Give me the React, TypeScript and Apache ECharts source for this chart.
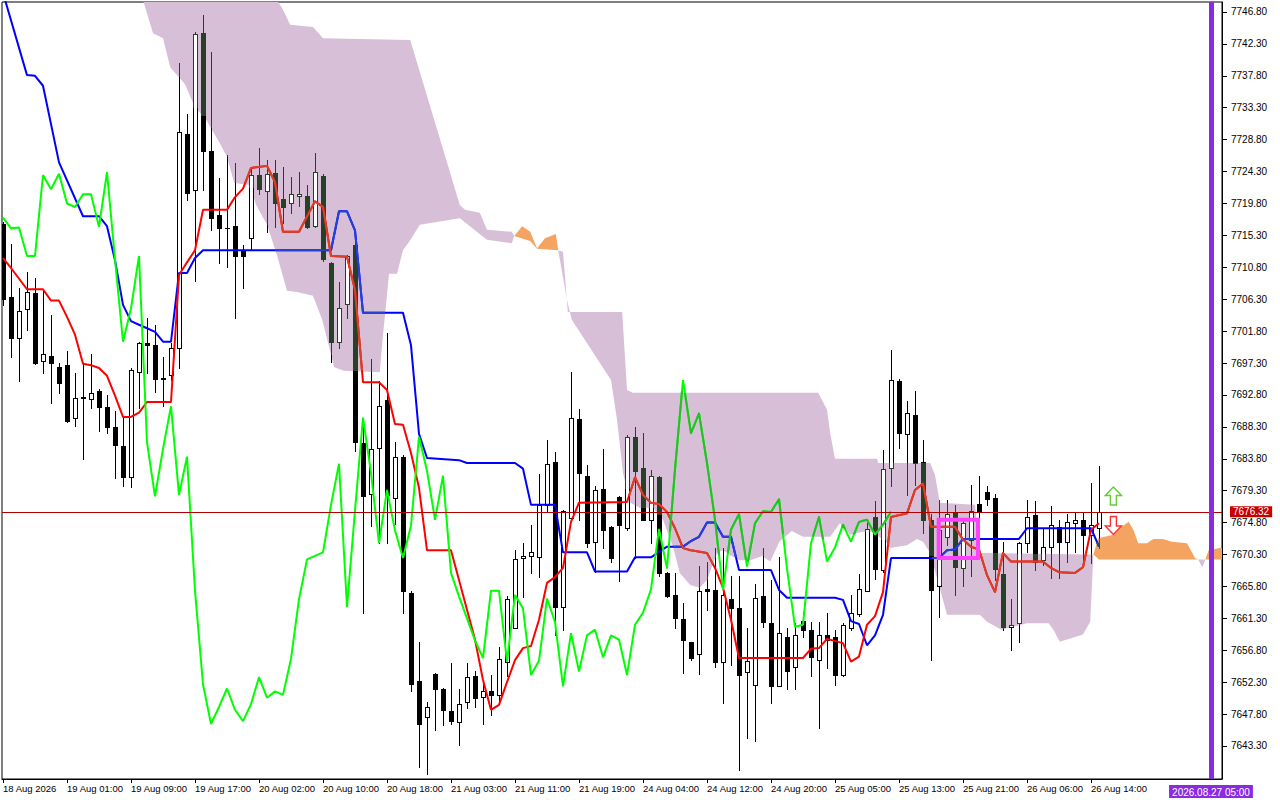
import { useEffect, useRef } from 'react';
import * as echarts from 'echarts';

const timeLabels = ['18 Aug 2026', '19 Aug 01:00', '19 Aug 09:00', '19 Aug 17:00', '20 Aug 02:00', '20 Aug 10:00', '20 Aug 18:00', '21 Aug 03:00', '21 Aug 11:00', '21 Aug 19:00', '24 Aug 04:00', '24 Aug 12:00', '24 Aug 20:00', '25 Aug 05:00', '25 Aug 13:00', '25 Aug 21:00', '26 Aug 06:00', '26 Aug 14:00'];
const timeLabelBars = [0, 8, 16, 24, 32, 40, 48, 56, 64, 72, 80, 88, 96, 104, 112, 120, 128, 136];
const priceTicks = [7643.3, 7647.8, 7652.3, 7656.8, 7661.3, 7665.8, 7670.3, 7674.8, 7679.3, 7683.8, 7688.3, 7692.8, 7697.3, 7701.8, 7706.3, 7710.8, 7715.3, 7719.8, 7724.3, 7728.8, 7733.3, 7737.8, 7742.3, 7746.8];

const opens = [7716.9, 7706.6, 7700.8, 7704.9, 7707.2, 7697.6, 7698.3, 7696.7, 7697.0, 7689.5,
  7692.4, 7692.2, 7693.4, 7691.1, 7688.3, 7685.6, 7681.2, 7696.0, 7700.1, 7699.9,
  7695.1, 7695.6, 7699.4, 7729.6, 7721.7, 7743.9, 7727.2, 7718.2, 7716.3, 7716.6,
  7713.3, 7714.9, 7723.8, 7721.5, 7724.1, 7720.5, 7719.8, 7720.8, 7720.9, 7716.6,
  7723.7, 7711.4, 7700.3, 7705.6, 7714.0, 7686.0, 7678.8, 7685.3, 7692.1, 7678.3,
  7684.1, 7664.9, 7652.4, 7647.4, 7653.4, 7651.3, 7648.2, 7646.7, 7649.5, 7653.1,
  7650.2, 7651.0, 7650.5, 7655.2, 7660.0, 7669.8, 7670.1, 7670.0, 7677.3, 7683.4,
  7662.9, 7675.5, 7689.4, 7681.4, 7672.0, 7679.6, 7674.2, 7678.4, 7674.0, 7686.8,
  7682.5, 7675.1, 7681.2, 7667.7, 7664.6, 7661.2, 7657.9, 7656.3, 7665.4, 7665.3,
  7655.2, 7664.0, 7662.7, 7653.7, 7651.9, 7664.5, 7660.7, 7651.8, 7658.7, 7654.4,
  7660.9, 7659.7, 7655.4, 7658.9, 7658.7, 7653.3, 7660.0, 7661.9, 7665.2, 7675.6,
  7668.1, 7682.5, 7694.7, 7687.3, 7690.0, 7683.4, 7675.2, 7665.8, 7672.7, 7676.1,
  7668.4, 7672.4, 7677.4, 7679.1, 7678.2, 7667.6, 7660.1, 7660.7, 7671.9, 7675.9,
  7669.5, 7671.3, 7674.2, 7672.1, 7674.8, 7675.2, 7673.1, 7674.0];
const highs = [7717.2, 7714.1, 7707.9, 7710.1, 7709.3, 7707.6, 7704.1, 7697.3, 7699.0, 7695.9,
  7697.3, 7698.6, 7693.6, 7692.8, 7690.5, 7689.5, 7696.6, 7700.3, 7703.7, 7702.7,
  7698.2, 7700.1, 7739.6, 7732.4, 7744.0, 7746.4, 7741.2, 7723.4, 7726.6, 7725.5,
  7713.9, 7724.8, 7727.6, 7725.9, 7725.9, 7725.0, 7723.6, 7724.3, 7722.4, 7726.9,
  7723.9, 7711.6, 7708.7, 7712.6, 7714.3, 7689.4, 7697.9, 7694.8, 7701.6, 7686.2,
  7684.3, 7665.1, 7658.0, 7649.5, 7653.6, 7651.5, 7655.0, 7651.4, 7655.0, 7653.8,
  7652.0, 7653.3, 7657.3, 7664.4, 7671.0, 7671.9, 7674.4, 7681.7, 7686.5, 7684.7,
  7676.6, 7696.0, 7690.8, 7682.9, 7679.9, 7685.2, 7674.3, 7678.5, 7687.2, 7688.3,
  7687.4, 7682.2, 7681.3, 7667.9, 7667.7, 7663.4, 7658.0, 7668.7, 7669.2, 7671.2,
  7671.2, 7667.2, 7667.3, 7660.0, 7666.2, 7671.2, 7666.7, 7670.0, 7659.9, 7660.6,
  7662.2, 7660.8, 7660.8, 7662.1, 7659.6, 7660.6, 7664.6, 7667.6, 7675.2, 7677.8,
  7685.0, 7699.2, 7695.1, 7691.9, 7693.4, 7686.4, 7676.0, 7678.0, 7678.0, 7677.3,
  7675.4, 7680.1, 7681.3, 7679.9, 7678.9, 7672.1, 7664.0, 7672.0, 7678.0, 7677.8,
  7674.1, 7677.1, 7675.2, 7676.0, 7676.1, 7676.2, 7680.4, 7682.8];
const lows = [7705.5, 7698.2, 7694.8, 7701.9, 7697.2, 7695.9, 7691.7, 7693.1, 7689.0, 7688.4,
  7683.8, 7690.9, 7687.7, 7687.4, 7681.1, 7680.0, 7679.8, 7690.9, 7695.9, 7693.2,
  7691.3, 7694.9, 7696.6, 7720.3, 7708.8, 7721.7, 7716.1, 7711.4, 7710.8, 7703.7,
  7707.9, 7713.2, 7721.2, 7715.8, 7716.5, 7717.0, 7718.4, 7719.5, 7716.4, 7716.5,
  7711.7, 7697.4, 7699.4, 7703.6, 7684.9, 7662.0, 7674.3, 7671.9, 7671.9, 7674.6,
  7662.0, 7651.0, 7640.4, 7639.4, 7645.5, 7646.2, 7646.4, 7643.5, 7648.6, 7648.8,
  7646.4, 7647.7, 7649.2, 7653.2, 7660.0, 7664.3, 7667.7, 7667.1, 7676.5, 7659.0,
  7659.7, 7675.0, 7675.2, 7671.4, 7667.9, 7671.2, 7669.2, 7666.5, 7673.8, 7669.8,
  7675.1, 7671.9, 7667.2, 7664.3, 7659.9, 7653.6, 7655.4, 7653.4, 7662.5, 7654.5,
  7649.3, 7654.7, 7639.9, 7644.4, 7644.0, 7660.1, 7649.4, 7651.7, 7651.4, 7651.4,
  7658.7, 7653.1, 7645.8, 7654.3, 7651.9, 7653.1, 7659.7, 7661.6, 7665.1, 7666.9,
  7667.9, 7679.9, 7685.3, 7678.7, 7680.1, 7673.4, 7655.4, 7661.5, 7671.6, 7664.6,
  7665.8, 7667.2, 7674.7, 7677.3, 7666.7, 7659.7, 7656.8, 7658.0, 7670.7, 7668.1,
  7668.8, 7667.0, 7667.0, 7669.3, 7670.6, 7669.2, 7669.1, 7671.2];
const closes = [7706.3, 7700.8, 7704.6, 7707.3, 7697.3, 7698.6, 7697.3, 7694.5, 7689.1, 7692.4,
  7692.5, 7693.1, 7691.1, 7688.3, 7685.7, 7681.2, 7696.3, 7700.1, 7699.9, 7695.1,
  7695.2, 7699.4, 7729.9, 7721.3, 7743.7, 7727.2, 7717.8, 7716.3, 7716.4, 7712.4,
  7712.4, 7723.8, 7721.8, 7724.0, 7719.8, 7719.3, 7721.1, 7721.1, 7716.5, 7724.2,
  7711.9, 7700.3, 7705.0, 7712.4, 7686.1, 7678.5, 7685.2, 7691.2, 7678.7, 7684.1,
  7665.2, 7652.0, 7646.4, 7648.8, 7651.4, 7648.4, 7646.8, 7649.2, 7653.0, 7650.1,
  7651.0, 7650.5, 7655.6, 7664.0, 7669.6, 7670.1, 7670.6, 7677.3, 7683.1, 7662.9,
  7676.5, 7689.6, 7681.8, 7671.9, 7679.4, 7673.7, 7669.8, 7674.4, 7686.9, 7682.1,
  7675.2, 7681.4, 7667.7, 7664.4, 7661.3, 7658.2, 7655.7, 7665.2, 7665.2, 7655.2,
  7664.6, 7662.7, 7653.3, 7655.3, 7664.1, 7660.8, 7651.7, 7659.2, 7653.8, 7658.9,
  7659.7, 7655.8, 7658.9, 7658.3, 7653.3, 7660.4, 7662.1, 7665.4, 7673.9, 7668.3,
  7682.3, 7694.9, 7687.4, 7690.2, 7683.2, 7675.2, 7665.3, 7673.8, 7676.0, 7668.6,
  7674.7, 7676.4, 7676.3, 7678.1, 7668.3, 7660.1, 7660.4, 7671.9, 7675.6, 7669.3,
  7671.3, 7674.5, 7672.1, 7674.9, 7675.2, 7673.1, 7674.5, 7676.32];

// Tenkan-sen (red) vertices [bar, price]
const tenkan = [[0, 7712.1], [1, 7710.7], [3, 7707.7], [5, 7707.7], [6, 7706.1], [7, 7706.1], [8, 7703.8], [9, 7701.3], [10, 7697.2], [11, 7697.0], [12, 7696.6], [13, 7695.5], [14, 7692.7], [15, 7689.7], [16, 7689.7], [17, 7690.3], [18, 7691.8], [21, 7691.8], [22, 7709.7], [23, 7711.5], [24, 7713.2], [25, 7718.9], [28, 7718.9], [29, 7720.7], [30, 7721.9], [31, 7724.8], [33, 7725.1], [34, 7722.8], [35, 7715.8], [37, 7715.8], [39, 7720.1], [40, 7719.3], [41, 7712.4], [43, 7712.3], [44, 7707.6], [45, 7694.6], [47, 7694.6], [48, 7693.5], [49, 7688.7], [50, 7688.6], [51, 7684.6], [52, 7679.7], [53, 7670.9], [56, 7670.9], [57, 7666.7], [58, 7662.5], [59, 7658.3], [60, 7652.6], [61, 7648.4], [62, 7649.1], [63, 7652.3], [64, 7655.4], [65, 7657.1], [66, 7657.4], [67, 7661.1], [68, 7666.3], [69, 7667.1], [70, 7668.4], [71, 7674.9], [72, 7677.6], [78, 7677.7], [79, 7681.2], [80, 7678.7], [81, 7677.6], [82, 7677.4], [83, 7676.3], [84, 7674.0], [85, 7671.2], [86, 7670.9], [88, 7670.5], [89, 7668.4], [90, 7665.6], [91, 7661.1], [92, 7655.7], [100, 7655.7], [101, 7657.0], [102, 7657.1], [103, 7658.4], [105, 7657.8], [106, 7655.2], [107, 7655.9], [108, 7660.4], [109, 7661.6], [110, 7665.0], [111, 7675.6], [113, 7676.1], [114, 7679.4], [115, 7680.3], [116, 7674.2], [119, 7674.2], [120, 7672.4], [121, 7671.4], [122, 7671.0], [123, 7667.4], [124, 7665.0], [125, 7670.5], [126, 7669.3], [130, 7669.3], [131, 7668.4], [132, 7667.8], [134, 7667.7], [135, 7668.5], [136, 7673.8], [137, 7674.7]];

// Kijun-sen (blue) vertices [bar, price]
const kijun = [[0, 7749.5], [3, 7737.9], [4, 7737.8], [5, 7736.4], [7, 7725.6], [10, 7718.0], [12, 7718.0], [13, 7716.6], [14, 7711.8], [15, 7705.5], [16, 7703.2], [17, 7702.7], [18, 7702.2], [19, 7701.7], [20, 7700.3], [21, 7700.3], [22, 7710.0], [23, 7710.0], [24, 7712.1], [25, 7713.2], [41, 7713.2], [42, 7718.7], [43, 7718.7], [44, 7716.0], [45, 7704.4], [50, 7704.4], [51, 7699.8], [52, 7687.3], [53, 7683.9], [57, 7683.6], [58, 7683.2], [64, 7683.2], [65, 7682.4], [66, 7677.3], [69, 7677.3], [70, 7670.6], [73, 7670.6], [74, 7667.9], [78, 7667.9], [79, 7669.9], [81, 7669.9], [83, 7671.4], [85, 7671.4], [86, 7672.2], [87, 7672.8], [88, 7674.8], [89, 7674.8], [90, 7672.8], [91, 7672.8], [92, 7668.1], [96, 7668.1], [97, 7665.3], [98, 7664.2], [104, 7664.2], [105, 7663.9], [106, 7660.9], [107, 7660.5], [108, 7657.5], [109, 7658.9], [110, 7661.8], [111, 7669.8], [117, 7669.8], [118, 7670.9], [119, 7671.0], [120, 7672.5], [127, 7672.5], [128, 7674.0], [136, 7674.0], [137, 7671.4]];

// Kumo boundaries [bar, price]
const cloudP1Upper = [[15.9, 7765], [34, 7749.0], [35.0, 7747.1], [35.9, 7745.0], [38.75, 7744.7], [40, 7743.1], [50.9, 7742.85], [51.1, 7742.1], [57.1, 7719.6], [57.75, 7718.9], [59.6, 7718.5], [60.5, 7716.1], [63.6, 7715.8], [63.9, 7715.2]];
const cloudP1Lower = [[15.9, 7751], [17.6, 7748.1], [18.75, 7743.8], [20, 7743.1], [20.9, 7739.0], [22.75, 7736.6], [24, 7733.3], [25.25, 7731.9], [27.1, 7728.3], [28, 7726.4], [28.9, 7722.7], [30.9, 7722.4], [31.6, 7719.7], [33, 7716.8], [34.25, 7712.5], [35.5, 7707.5], [36.75, 7707.3], [38.75, 7706.8], [39.9, 7703.4], [41.4, 7696.7], [42.6, 7696.2], [47.1, 7696.0], [47.4, 7700.1], [48, 7706.9], [48.25, 7709.9], [49.25, 7709.9], [50, 7713.2], [50.9, 7714.6], [52.1, 7716.8], [57.1, 7717.7], [60.5, 7714.7], [63.6, 7714.2], [63.9, 7715.2]];
const cloudO1Upper = [[63.9, 7715.2], [64.9, 7716.6], [65.9, 7715.8], [66.75, 7713.5], [67.75, 7714.9], [69.1, 7715.5], [69.4, 7713.2]];
const cloudO1Lower = [[63.9, 7715.2], [65.9, 7714.5], [66.75, 7713.4], [69.4, 7713.2]];
const cloudP2Upper = [[69.4, 7713.2], [70.0, 7713.0], [70.6, 7704.5], [77.4, 7704.5], [78, 7693.5], [78.75, 7693.1], [101.9, 7693.1], [103, 7690.7], [103.4, 7687.4], [104, 7683.8], [109.25, 7683.8], [109.4, 7683.2], [115.9, 7683.2], [116.5, 7681.5], [117.1, 7677.6], [121.5, 7677.3], [122.1, 7670.5], [136.3, 7670.3]];
const cloudP2Lower = [[69.4, 7713.2], [70.5, 7706.2], [71.1, 7703.4], [76, 7694.9], [76.75, 7689.3], [77.5, 7681.8], [78.4, 7677.6], [79.6, 7676.9], [81.25, 7676.9], [82.5, 7675.2], [83.75, 7671.4], [84.6, 7667.7], [85.9, 7666.0], [87.1, 7665.6], [88, 7666.7], [89.25, 7670.5], [90, 7670.9], [90.9, 7670.2], [92.1, 7669.5], [93.4, 7669.5], [94.9, 7670.1], [95.9, 7669.3], [97.1, 7672.2], [98.6, 7673.6], [100, 7672.8], [103.4, 7672.8], [104.6, 7674.7], [105.9, 7673.1], [107.5, 7673.5], [108.75, 7673.5], [110.5, 7671.9], [110.9, 7671.2], [113, 7671.6], [114.25, 7672.5], [115, 7672.1], [115.9, 7670.5], [118, 7661.8], [122.1, 7661.8], [123, 7660.8], [124.8, 7659.7], [128, 7660.6], [130.7, 7660.6], [131.3, 7659.7], [132.1, 7658.0], [133, 7658.3], [135, 7659.0], [135.9, 7660.8], [136.3, 7670.3]];
const cloudO2Upper = [[136.3, 7670.3], [136.9, 7672.6], [138.8, 7673.1], [139.6, 7674.0], [140.7, 7674.9], [141.3, 7673.8], [141.9, 7671.9], [143, 7671.9], [143.8, 7672.5], [145, 7672.5], [146.1, 7672.1], [148, 7671.9], [149, 7669.8], [149.4, 7669.6]];
const cloudO2Lower = [[136.3, 7670.3], [137, 7669.6], [149.4, 7669.6]];
const cloudP3Upper = [[149.4, 7669.6], [150.3, 7669.6]];
const cloudP3Lower = [[149.4, 7669.6], [149.9, 7668.5], [150.3, 7669.6]];
const cloudO3Upper = [[150.3, 7669.6], [150.7, 7670.9], [152.1, 7671.2], [153, 7671.2]];
const cloudO3Lower = [[150.3, 7669.6], [153, 7669.6]];

const lastPrice = 7676.32;
const markerBar = 151;
const markerLabel = '2026.08.27 05:00';
const signalBoxBars = [116.96, 121.875];
const signalBoxPrices = [7675.21, 7669.81];
const upArrow = [138.8, 7678.55];
const downArrow = [138.8, 7674.39];

const THISTLE = '#d8bfd8';
const SANDY = '#f4a460';
// tint = colour left where the cloud covers black (white minus cloud colour)
const cloudRegions = [
  { fill: THISTLE, kind: 'p', tint: '#274027', upper: cloudP1Upper, lower: cloudP1Lower },
  { fill: SANDY, kind: 'o', tint: '#0b5b9f', upper: cloudO1Upper, lower: cloudO1Lower },
  { fill: THISTLE, kind: 'p', tint: '#274027', upper: cloudP2Upper, lower: cloudP2Lower },
  { fill: SANDY, kind: 'o', tint: '#0b5b9f', upper: cloudO2Upper, lower: cloudO2Lower },
  { fill: THISTLE, kind: 'p', tint: '#274027', upper: cloudP3Upper, lower: cloudP3Lower },
  { fill: SANDY, kind: 'o', tint: '#0b5b9f', upper: cloudO3Upper, lower: cloudO3Lower },
];

const Y_MAX = 7748.21;
const Y_MIN = 7638.64;
const FONT = '"Liberation Sans", Arial, sans-serif';

function interp(pts: number[][], x: number): number {
  for (let k = 0; k < pts.length - 1; k++) {
    const a = pts[k], b = pts[k + 1];
    if (x >= a[0] && x <= b[0]) {
      if (b[0] === a[0]) return a[1];
      return a[1] + (b[1] - a[1]) * (x - a[0]) / (b[0] - a[0]);
    }
  }
  return pts[pts.length - 1][1];
}

function bandAt(x: number) {
  for (const r of cloudRegions) {
    if (x >= r.upper[0][0] && x <= r.upper[r.upper.length - 1][0]) {
      return { hi: interp(r.upper, x), lo: interp(r.lower, x), tint: r.tint, kind: r.kind };
    }
  }
  return null;
}

export default function App() {
  const ref = useRef<HTMLDivElement>(null);
  useEffect(() => {
    const el = ref.current!;
    const chart = echarts.init(el, null, { renderer: 'svg' });
    const candleData = closes.map((c, i) => [i, opens[i], c, lows[i], highs[i]]);
    const chikou = closes.slice(26).map((c, i) => [i, c]);
    const overlayLines = [
      { verts: kijun, p: '#2740d8', o: '#0b5b60' },
      { verts: tenkan, p: '#d84027', o: '#f45b9f' },
      { verts: chikou, p: '#27bf27', o: '#0ba49f' },
    ];

    const option: any = {
      animation: false,
      backgroundColor: '#ffffff',
      textStyle: { fontFamily: FONT },
      grid: { left: 2, top: 2, right: 58, bottom: 21, show: true, borderColor: '#000', borderWidth: 1, containLabel: false, outerBoundsMode: 'none' },
      xAxis: {
        type: 'value', min: -0.125, max: 152.375,
        axisLine: { show: true, onZero: false, lineStyle: { color: '#000', width: 1 } },
        axisTick: { show: true, length: 4, lineStyle: { color: '#000' }, customValues: timeLabelBars },
        axisLabel: {
          show: true, customValues: timeLabelBars, align: 'left', margin: 4, color: '#000', fontSize: 9.5, fontFamily: FONT,
          formatter: (v: number) => timeLabels[timeLabelBars.indexOf(Math.round(v))] ?? '',
        },
        splitLine: { show: false },
      },
      yAxis: {
        type: 'value', position: 'right', min: Y_MIN, max: Y_MAX, scale: true,
        axisLine: { show: true, onZero: false, lineStyle: { color: '#000', width: 1 } },
        axisTick: { show: true, length: 5, lineStyle: { color: '#000' }, customValues: priceTicks },
        axisLabel: { show: true, customValues: priceTicks, margin: 9, color: '#000', fontSize: 10, fontFamily: FONT, formatter: (v: number) => v.toFixed(2) },
        splitLine: { show: false },
      },
      series: [
        {
          type: 'custom', name: 'kumo', z: 1, silent: true, clip: true,
          encode: { x: 0, y: 1 },
          data: cloudRegions.map((r) => [r.upper[0][0], r.upper[0][1]]),
          renderItem: (params: any, api: any) => {
            const r = cloudRegions[params.dataIndex];
            const pts = r.upper.map((v) => api.coord(v)).concat(r.lower.slice().reverse().map((v) => api.coord(v)));
            return { type: 'polygon', shape: { points: pts }, style: { fill: r.fill } };
          },
        },
        {
          type: 'custom', name: 'candles', z: 2, silent: true, clip: true,
          encode: { x: 0, y: [1, 2, 3, 4] },
          data: candleData,
          renderItem: (params: any, api: any) => {
            const i = api.value(0), o = api.value(1), c = api.value(2), l = api.value(3), h = api.value(4);
            const cx = Math.round(api.coord([i, o])[0]);
            const yo = Math.round(api.coord([i, o])[1]);
            const yc = Math.round(api.coord([i, c])[1]);
            const yh = Math.round(api.coord([i, h])[1]);
            const yl = Math.round(api.coord([i, l])[1]);
            const top = Math.min(yo, yc), bot = Math.max(yo, yc);
            const hgt = Math.max(1, bot - top + 1);
            const b = bandAt(i);
            let bt = 99999, bb = -99999, tint = '#000';
            if (b) {
              bt = Math.round(api.coord([i, b.hi])[1]);
              bb = Math.round(api.coord([i, b.lo])[1]);
              tint = b.tint;
            }
            const children: any[] = [];
            const split = (x: number, w: number, y1: number, y2: number) => {
              const seg = (s: number, e: number, col: string) => {
                if (e > s) children.push({ type: 'rect', shape: { x, y: s, width: w, height: e - s }, style: { fill: col } });
              };
              seg(y1, Math.min(y2, bt), '#000');
              seg(Math.max(y1, bt), Math.min(y2, bb), tint);
              seg(Math.max(y1, bb), y2, '#000');
            };
            split(cx, 1, yh, Math.max(yh + 1, yl + 1));
            split(cx - 2, 5, top, top + hgt);
            if (c >= o && hgt > 2) {
              children.push({ type: 'rect', shape: { x: cx - 1, y: top + 1, width: 3, height: hgt - 2 }, style: { fill: '#fff' } });
            }
            return { type: 'group', children };
          },
        },
        { type: 'line', name: 'Kijun', z: 3, data: kijun, showSymbol: false, symbol: 'none', silent: true, lineStyle: { color: '#0000ff', width: 2 } },
        { type: 'line', name: 'Tenkan', z: 3, data: tenkan, showSymbol: false, symbol: 'none', silent: true, lineStyle: { color: '#ff0000', width: 2 } },
        { type: 'line', name: 'Chikou', z: 3, data: chikou, showSymbol: false, symbol: 'none', silent: true, lineStyle: { color: '#00ff00', width: 2 } },
        {
          // parts of the three lines that lie under the cloud take the cloud's blended colour
          type: 'custom', name: 'lineTint', z: 4, silent: true, clip: true,
          encode: { x: 0, y: 1 },
          data: overlayLines.map((ln) => [ln.verts[0][0], ln.verts[0][1]]),
          renderItem: (params: any, api: any) => {
            const ln = overlayLines[params.dataIndex];
            const v = ln.verts;
            const children: any[] = [];
            let cur: number[][] | null = null;
            let curKind = '';
            for (let k = 0; k < v.length - 1; k++) {
              const a = v[k], b = v[k + 1];
              const steps = Math.max(1, Math.ceil((b[0] - a[0]) * 8));
              for (let s = 0; s < steps; s++) {
                const t0 = s / steps, t1 = (s + 1) / steps;
                const x0 = a[0] + (b[0] - a[0]) * t0, y0 = a[1] + (b[1] - a[1]) * t0;
                const x1 = a[0] + (b[0] - a[0]) * t1, y1 = a[1] + (b[1] - a[1]) * t1;
                const xm = (x0 + x1) / 2, ym = (y0 + y1) / 2;
                const band = bandAt(xm);
                const inside = band && ym <= band.hi && ym >= band.lo;
                if (inside) {
                  if (!cur || curKind !== band!.kind) {
                    cur = [api.coord([x0, y0])];
                    curKind = band!.kind;
                    children.push({ type: 'polyline', shape: { points: cur }, style: { stroke: curKind === 'p' ? ln.p : ln.o, lineWidth: 2, fill: null, lineJoin: 'round' } });
                  }
                  cur.push(api.coord([x1, y1]));
                } else {
                  cur = null;
                }
              }
            }
            return { type: 'group', children };
          },
        },
        {
          type: 'line', name: 'marks', z: 6, data: [[137, lastPrice]], symbol: 'none', silent: true, lineStyle: { opacity: 0 },
          markLine: {
            silent: true, symbol: ['none', 'none'], animation: false, z: 8,
            data: [
              {
                yAxis: lastPrice,
                lineStyle: { color: '#b00000', width: 1, type: 'solid' },
                label: { show: true, position: 'end', formatter: lastPrice.toFixed(2), color: '#fff', backgroundColor: '#c80000', padding: [1, 3, 0, 3], fontSize: 10, fontFamily: FONT, distance: 8 },
              },
              {
                xAxis: markerBar,
                lineStyle: { color: '#8a2be2', width: 5, type: 'solid' },
                label: { show: true, position: 'start', formatter: markerLabel, color: '#fff', backgroundColor: '#8a2be2', padding: [2, 3, 1, 3], fontSize: 10, fontFamily: FONT, distance: 6 },
              },
            ],
          },
          markArea: {
            silent: true, z: 9,
            itemStyle: { color: 'rgba(0,0,0,0)', borderColor: '#ff40ff', borderWidth: 4 },
            data: [[
              { xAxis: signalBoxBars[0], yAxis: signalBoxPrices[0] },
              { xAxis: signalBoxBars[1], yAxis: signalBoxPrices[1] },
            ]],
          },
          markPoint: {
            silent: true, z: 10,
            label: { show: false },
            data: [
              { coord: upArrow, symbol: 'path://M8,0 L16,9 L11,9 L11,19 L5,19 L5,9 L0,9 Z', symbolSize: [16, 18], itemStyle: { color: '#ffffff', borderColor: '#66cc33', borderWidth: 1.5 } },
              { coord: downArrow, symbol: 'path://M5,0 L11,0 L11,10 L16,10 L8,19 L0,10 L5,10 Z', symbolSize: [16, 18], itemStyle: { color: '#ffffff', borderColor: '#ff3030', borderWidth: 1.5 } },
            ],
          },
        },
      ],
    };
    chart.setOption(option);
    return () => { chart.dispose(); };
  }, []);
  return <div ref={ref} style={{ position: 'fixed', left: 0, top: 0, width: 1280, height: 800 }} />;
}
